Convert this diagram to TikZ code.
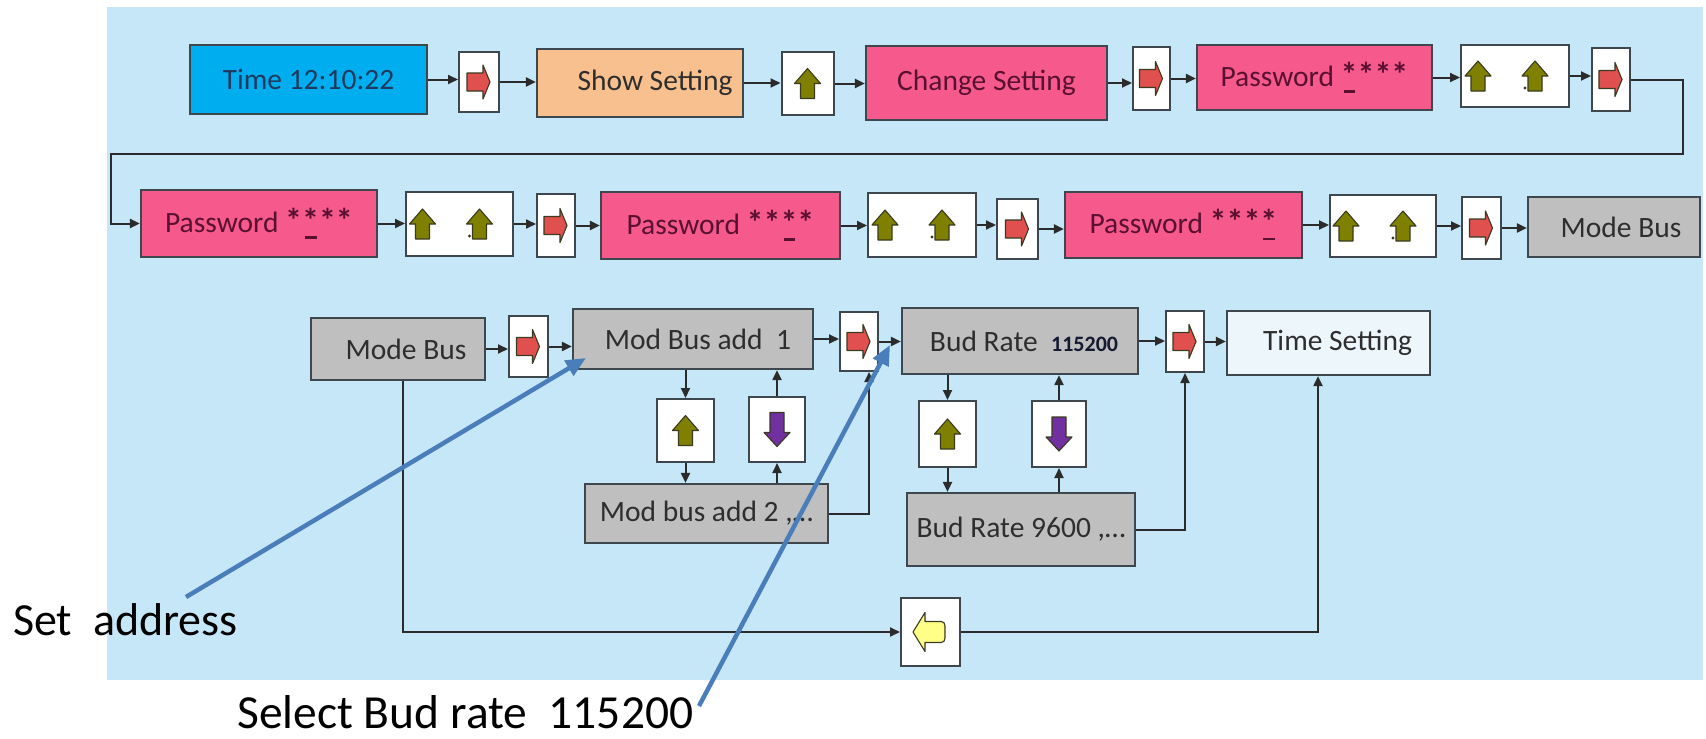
\documentclass[tikz,border=0pt]{standalone}
\usepackage{fontspec}
\setmainfont{Carlito}
\usetikzlibrary{arrows.meta}

\definecolor{bgblue}{HTML}{C6E7F8}
\definecolor{timeblue}{HTML}{00AEEF}
\definecolor{peach}{HTML}{F9C08F}
\definecolor{pinkbox}{HTML}{F65A8C}
\definecolor{greybox}{HTML}{BFBFBF}
\definecolor{paleblue}{HTML}{EDF6FB}
\definecolor{boxline}{HTML}{3E474D}
\definecolor{flowline}{HTML}{2B2B2B}
\definecolor{arrred}{HTML}{E0504F}
\definecolor{arrolive}{HTML}{808000}
\definecolor{arrpurple}{HTML}{7030A0}
\definecolor{arryellow}{HTML}{FFFF88}
\definecolor{iconline}{HTML}{3A3A20}
\definecolor{notecol}{HTML}{4A7EBB}
\definecolor{navytext}{HTML}{1F3A5F}
\definecolor{maroontext}{HTML}{5A1030}
\definecolor{darktext}{HTML}{2E2E2E}
\definecolor{numtext}{HTML}{141A30}

% password stars; \cst marks the star under the cursor
\newcommand\pst{{\fontsize{34}{34}\selectfont\bfseries *}}
\newcommand\cst{\makebox[0pt][l]{\hspace{0.1em}\rule[-0.22em]{0.4em}{0.09em}}\pst}

\tikzset{
  sz/.style 2 args={minimum width=#1pt, minimum height=#2pt},
  box/.style={draw=boxline, line width=2.2pt, inner sep=0pt,
    font=\fontsize{29.5}{31}\selectfont, text=darktext},
  bluebox/.style={box, fill=timeblue, text=navytext},
  peachbox/.style={box, fill=peach},
  pinkb/.style={box, fill=pinkbox, text=maroontext},
  greyb/.style={box, fill=greybox},
  paleb/.style={box, fill=paleblue},
  keybox/.style={draw=boxline, line width=2pt, fill=white, inner sep=0pt},
  flow/.style={draw=flowline, line width=2pt, -{Triangle[length=10pt,width=9pt]}},
  icon/.style={draw=iconline, line width=1.1pt, line join=round},
  note/.style={draw=notecol, line width=4.5pt, -{Triangle[length=20pt,width=17pt]}},
  notetext/.style={text=black, inner sep=0pt, anchor=base west},
  rarr/.pic={\draw[icon, fill=arrred] (-12,-9) -- (4,-9) -- (4,-17) -- (11,0)
      -- (4,17) -- (4,9) -- (-12,9) -- cycle;},
  uarr/.pic={\draw[icon, fill=arrolive] (-7,15) -- (-7,0) -- (-13,0) -- (0,-15)
      -- (13,0) -- (7,0) -- (7,15) -- cycle;},
  darr/.pic={\draw[icon, fill=arrpurple] (-7,-17) -- (-7,3) -- (-13,3) -- (0,17)
      -- (13,3) -- (7,3) -- (7,-17) -- cycle;},
  larr/.pic={\draw[icon, fill=arryellow] (-17.5,0) -- (-5.5,-19.5) -- (-5.5,-10.5)
      -- (11,-10.5) to[out=0,in=90] (14.5,-6) -- (14.5,6) to[out=-90,in=0] (11,10.5)
      -- (-5.5,10.5) -- (-5.5,19.5) -- cycle;},
  dup/.pic={\pic at (-37,0) {uarr}; \pic at (20,0) {uarr};
      \fill[iconline] (10,12) circle (1.6);},
}

\begin{document}
\begin{tikzpicture}[x=1pt,y=-1pt]
\useasboundingbox (0,0) rectangle (1706,739);
\fill[bgblue] (107,7) rectangle (1703,680);

% ---- first row: time display and password entry
\node[bluebox, sz={237}{69}] (time) at (308.5,79.5) {Time 12:10:22};
\node[keybox, sz={40}{60}] (s1) at (479,82) {};
\node[peachbox, sz={206}{68}] (show) at (640,83) {\hspace*{30pt}Show Setting};
\node[keybox, sz={52}{63}] (s2) at (807.5,83.5) {};
\node[pinkb, sz={241}{74}] (change) at (986.5,83) {Change Setting};
\node[keybox, sz={37}{63}] (s3) at (1151.5,78.5) {};
\node[pinkb, sz={235}{65}] (pw1) at (1314.5,77.5) {Password \cst\pst\pst\pst};
\node[keybox, sz={108}{62}] (d1) at (1515,76) {};
\node[keybox, sz={38}{63}] (s4) at (1611,79.5) {};

% ---- second row
\node[pinkb, sz={236}{67}] (pw2) at (259,223.5) {Password \pst\cst\pst\pst};
\node[keybox, sz={107}{64}] (d2) at (459.5,224) {};
\node[keybox, sz={38}{63}] (s5) at (556,225.5) {};
\node[pinkb, sz={239}{67}] (pw3) at (720.5,225.5) {Password \pst\pst\cst\pst};
\node[keybox, sz={108}{64}] (d3) at (922,225) {};
\node[keybox, sz={41}{60}] (s6) at (1017.5,229) {};
\node[pinkb, sz={237}{66}] (pw4) at (1183.5,225) {Password \pst\pst\pst\cst};
\node[keybox, sz={106}{62}] (d4) at (1383,226) {};
\node[keybox, sz={39}{62}] (s7) at (1481.5,228) {};
\node[greyb, sz={172}{60}] (mb1) at (1614,227) {\hspace*{14pt}Mode Bus};

% ---- third row: bus settings
\node[greyb, sz={174}{62}] (mb2) at (398,349) {\hspace*{16pt}Mode Bus};
\node[keybox, sz={39}{61}] (s8) at (528.5,346.5) {};
\node[greyb, sz={240}{60}] (ma1) at (693,339) {\hspace*{10pt}Mod Bus add\ \ 1};
\node[keybox, sz={38}{59}] (s9) at (859,341.5) {};
\node[greyb, sz={236}{66}] (br1) at (1020,341) {\hspace*{8pt}Bud Rate\ \ {\bfseries\fontsize{22}{24}\selectfont\color{numtext}115200}};
\node[keybox, sz={38}{61}] (s10) at (1185,341.5) {};
\node[paleb, sz={203}{64}] (ts) at (1328.5,343) {\hspace*{18pt}Time Setting};

% ---- value selection keys
\node[keybox, sz={57}{63}] (g1) at (685.5,430.5) {};
\node[keybox, sz={56}{65}] (p1) at (777,429.5) {};
\node[greyb, sz={243}{59}] (ma2) at (706.5,513.5) {Mod bus add 2 ,…};
\node[keybox, sz={57}{66}] (g2) at (947.5,434) {};
\node[keybox, sz={54}{66}] (p2) at (1059,434) {};
\node[greyb, sz={228}{73}] (br9) at (1021,529.5) {Bud Rate 9600 ,…};
\node[keybox, sz={59}{68}] (yl) at (930.5,632) {};

% ---- key symbols
\foreach \k in {s1,s3,s4,s5,s6,s7,s8,s9,s10} \pic at (\k) {rarr};
\foreach \k in {s2,g1,g2} \pic at (\k) {uarr};
\foreach \k in {d1,d2,d3,d4} \pic at (\k) {dup};
\foreach \k in {p1,p2} \pic at (\k) {darr};
\pic at (yl) {larr};

% ---- horizontal flow
\foreach \a/\b in {time/s1, s1/show, show/s2, s2/change, change/s3, s3/pw1, pw1/d1, d1/s4,
    pw2/d2, d2/s5, s5/pw3, pw3/d3, d3/s6, s6/pw4, pw4/d4, d4/s7, s7/mb1,
    mb2/s8, s8/ma1, ma1/s9, s9/br1, br1/s10, s10/ts}
  \draw[flow] (\a.east) -- (\a.east -| \b.west);

% wrap from the first row to the second
\coordinate (w1) at (1683,154);
\coordinate (w2) at (111,154);
\draw[flow] (s4.east) -| (w1) -- (w2) |- (pw2.west);

% up/down keys
\draw[flow] (ma1.south -| g1.north) -- (g1.north);
\draw[flow] (g1.south) -- (ma2.north -| g1.south);
\draw[flow] (ma2.north -| p1.south) -- (p1.south);
\draw[flow] (p1.north) -- (ma1.south -| p1.north);
\draw[flow] (br1.south -| g2.north) -- (g2.north);
\draw[flow] (g2.south) -- (br9.north -| g2.south);
\draw[flow] (br9.north -| p2.south) -- (p2.south);
\draw[flow] (p2.north) -- (br1.south -| p2.north);

% confirm from the selection boxes
\draw[flow] (ma2.east) -| ([xshift=-10pt]s9.south east);
\draw[flow] (br9.east) -| (s10.south);

% back to time setting
\coordinate (ret) at (1318,632);
\draw[flow] ([xshift=5pt]mb2.south) |- (yl.west);
\draw[flow] (yl.east) -- (ret) -- (ret |- ts.south);

% ---- notes
\node[notetext, font=\fontsize{46}{50}\selectfont] (setaddr) at (13,635) {Set\ \ address};
\node[notetext, font=\fontsize{47.5}{50}\selectfont] (selbud) at (237,728) {Select Bud rate\ \ 115200};
\coordinate (n1a) at (186,597);
\coordinate (n1b) at (586,358);
\coordinate (n2a) at (699,706);
\coordinate (n2b) at (890,345);
\draw[note] (n1a) -- (n1b);
\draw[note] (n2a) -- (n2b);
\end{tikzpicture}
\end{document}
